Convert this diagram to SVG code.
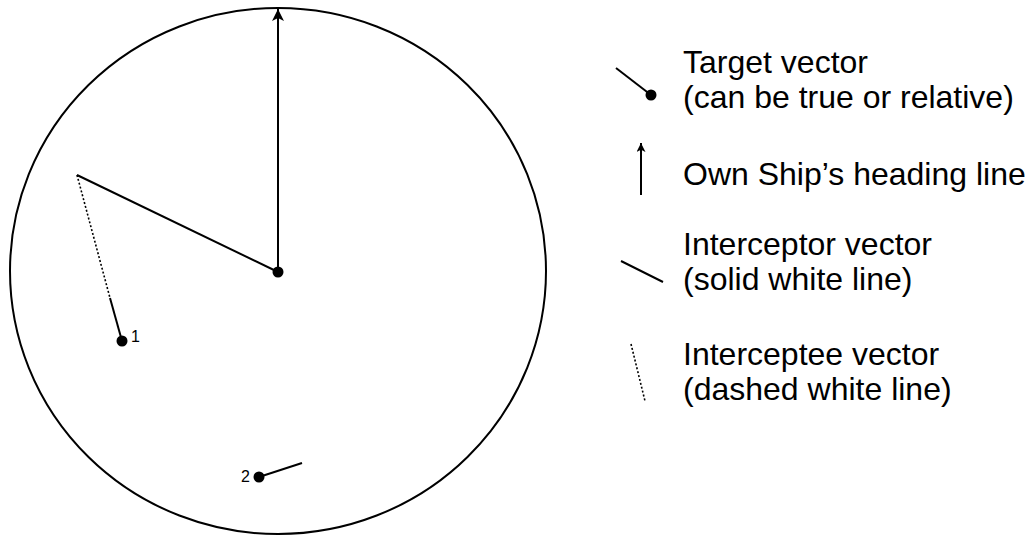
<svg xmlns="http://www.w3.org/2000/svg" width="1035" height="537" viewBox="0 0 1035 537">
<defs>
<style>
.ln{stroke:#000;stroke-width:2;fill:none}
.dot{stroke:#000;stroke-width:1.6;stroke-dasharray:2 2;fill:none}
.t{font-family:"Liberation Sans",Arial,sans-serif;font-size:32px;fill:#000}
.n{font-family:"Liberation Sans",Arial,sans-serif;font-size:16px;fill:#000}
</style>
<marker id="ah" viewBox="0 0 12 12" refX="12" refY="6" markerWidth="12" markerHeight="12" markerUnits="userSpaceOnUse" orient="auto">
<path d="M0,0 L12,6 L0,12 L3,6 Z" fill="#000"/>
</marker>
<marker id="ah2" viewBox="0 0 12 12" refX="12" refY="6" markerWidth="10" markerHeight="9" markerUnits="userSpaceOnUse" orient="auto">
<path d="M0,0 L12,6 L0,12 L3,6 Z" fill="#000"/>
</marker>
</defs>
<rect width="1035" height="537" fill="#fff"/>
<g id="radar">
<ellipse cx="278" cy="271" rx="268" ry="263" class="ln"/>
</g>
<g id="connectors">
<line x1="278" y1="272" x2="278" y2="9" class="ln" marker-end="url(#ah)"/>
<line x1="278" y1="272" x2="77" y2="175" class="ln"/>
<line x1="77" y1="175" x2="110" y2="298" class="dot"/>
<line x1="110" y1="298" x2="122" y2="341" class="ln"/>
<line x1="259" y1="477" x2="302" y2="463" class="ln"/>
</g>
<g id="own-ship">
<circle cx="278" cy="272" r="5.5" fill="#000"/>
</g>
<g id="target-1">
<circle cx="122" cy="341" r="5.5" fill="#000"/>
<text x="131" y="342" class="n">1</text>
</g>
<g id="target-2">
<circle cx="259" cy="477" r="5.5" fill="#000"/>
<text x="241" y="482" class="n">2</text>
</g>
<g id="legend-target">
<line x1="616" y1="68" x2="651" y2="95" class="ln"/>
<circle cx="651" cy="95" r="5.5" fill="#000"/>
<text x="683" y="73" class="t">Target vector</text>
<text x="683" y="108" class="t">(can be true or relative)</text>
</g>
<g id="legend-heading">
<line x1="641" y1="195" x2="641" y2="143" class="ln" marker-end="url(#ah2)"/>
<text x="683" y="185" class="t">Own Ship’s heading line</text>
</g>
<g id="legend-interceptor">
<line x1="621" y1="261" x2="663" y2="282" class="ln"/>
<text x="683" y="255" class="t">Interceptor vector</text>
<text x="683" y="290" class="t">(solid white line)</text>
</g>
<g id="legend-interceptee">
<line x1="631" y1="344" x2="645" y2="401" class="dot"/>
<text x="683" y="365" class="t">Interceptee vector</text>
<text x="683" y="400" class="t">(dashed white line)</text>
</g>
</svg>
